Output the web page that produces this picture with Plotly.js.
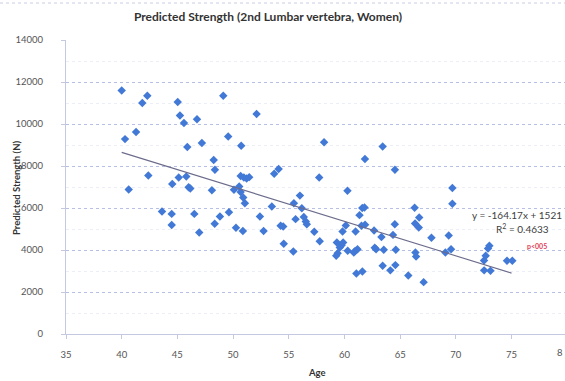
<!DOCTYPE html>
<html>
<head>
<meta charset="utf-8">
<script src="https://cdn.plot.ly/plotly-3.0.1.min.js"></script>
<style>html,body{margin:0;padding:0;background:#fff;}#chart{width:565px;height:381px;}</style>
</head>
<body>
<div id="chart"></div>
<script>
// Age (years) of each subject
const ages = [
  40.0, 42.3, 41.85, 45.03, 49.12, 45.23, 45.59, 46.76, 41.29, 40.30,
  49.56, 47.2, 45.89, 48.26, 48.37, 42.39, 45.12, 45.8, 44.54, 46.01,
  46.16, 40.63, 48.10, 43.62, 44.49, 46.52, 48.82, 49.63, 44.49, 48.35,
  46.96, 52.11, 50.73, 58.17, 54.09, 53.69, 50.68, 50.97, 51.22, 51.45,
  57.73, 50.55, 50.08, 50.68, 56.0, 50.91, 51.06, 53.48, 55.46, 56.17,
  52.41, 56.35, 56.53, 56.62, 55.61, 54.27, 54.5, 50.26, 50.88, 52.74,
  57.29, 57.78, 54.55, 59.32, 55.41, 59.39, 59.26, 60.29, 63.43, 61.84,
  64.53, 60.27, 61.6, 61.8, 66.30, 61.35, 66.71, 60.12, 61.53, 61.85,
  64.52, 66.34, 66.67, 59.83, 61.0, 62.66, 63.32, 64.36, 67.81, 69.36,
  59.88, 59.74, 59.58, 60.96, 61.17, 60.84, 62.72, 62.84, 63.53, 64.61,
  66.37, 66.43, 69.06, 63.43, 64.57, 64.12, 61.07, 61.61, 65.73, 67.11,
  69.69, 69.69, 69.57, 73.01, 72.89, 72.68, 72.53, 74.59, 75.07, 72.54,
  73.11
];
// Predicted strength (N)
const strength = [
  11600, 11350, 11000, 11050, 11350, 10400, 10050, 10230, 9620, 9280,
  9400, 9100, 8900, 8290, 7820, 7550, 7450, 7500, 7140, 6990,
  6930, 6880, 6850, 5830, 5720, 5720, 5600, 5800, 5190, 5250,
  4830, 10480, 8960, 9130, 7860, 7630, 7520, 7450, 7400, 7470,
  7450, 7020, 6870, 6760, 6590, 6500, 6230, 6070, 6230, 5990,
  5600, 5570, 5360, 5230, 5470, 5150, 5120, 5060, 4900, 4900,
  4870, 4420, 4300, 4360, 3930, 3850, 3730, 3960, 8930, 8330,
  7820, 6820, 6000, 6020, 6010, 5660, 5550, 5170, 5150, 5200,
  5230, 5260, 5070, 4880, 4880, 4930, 4620, 4720, 4580, 4690,
  4360, 4230, 4120, 3950, 4040, 3880, 4110, 4040, 4010, 4010,
  3880, 3690, 3880, 3250, 3280, 3030, 2880, 2980, 2790, 2470,
  6950, 6200, 4040, 4200, 4070, 3730, 3500, 3490, 3490, 3030,
  3010
];
// Linear trend line (end points)
const trendAges = [40, 75];
const trendStrength = [8650, 2900];
const yTicks = [0, 2000, 4000, 6000, 8000, 10000, 12000, 14000];
const xTicks = [35, 40, 45, 50, 55, 60, 65, 70, 75];

const FONT = 'Lato, "Open Sans", sans-serif';
const W = 565, H = 381;
const L = 66, R = 0, T = 40, B = 47;
const pw = W - L - R, ph = H - T - B;
const px = p => (p - L) / pw;
const py = p => (H - B - p) / ph;

const data = [
  {
    x: ages, y: strength, type: 'scatter', mode: 'markers',
    marker: {symbol: 'diamond', size: 6.5, color: '#4279d6'},
    hoverinfo: 'x+y', cliponaxis: false
  },
  {
    x: trendAges, y: trendStrength, type: 'scatter', mode: 'lines',
    line: {color: '#6b6b8c', width: 1.1}, hoverinfo: 'skip'
  }
];

const layout = {
  width: W, height: H,
  margin: {l: L, r: R, t: T, b: B, pad: 0},
  paper_bgcolor: '#ffffff', plot_bgcolor: '#ffffff',
  showlegend: false,
  title: {
    text: 'Predicted Strength (2nd Lumbar vertebra, Women)',
    font: {family: FONT, size: 12, color: '#333333', weight: 'bold'},
    x: 268 / W, xanchor: 'center', y: 1 - 17 / H, yanchor: 'middle'
  },
  xaxis: {
    range: [35, 79.8], tickmode: 'array', tickvals: xTicks,
    ticktext: xTicks.map(String),
    showgrid: false, zeroline: false,
    showline: true, linecolor: '#c4c8e0', linewidth: 1,
    ticks: 'outside', ticklen: 4, tickcolor: '#c4c8e0',
    ticklabelstandoff: 8,
    tickfont: {family: FONT, size: 9.5, color: '#555555'},
    fixedrange: true
  },
  yaxis: {
    range: [0, 14000], tickmode: 'array', tickvals: yTicks,
    ticktext: yTicks.map(String),
    showgrid: true, gridcolor: '#b8bfe4', griddash: 'dot', gridwidth: 1,
    minor: {dtick: 1000, showgrid: true, gridcolor: '#eceef7', griddash: 'dot', ticks: ''},
    zeroline: false,
    showline: true, linecolor: '#c4c8e0', linewidth: 1,
    ticks: 'outside', ticklen: 4, tickcolor: '#c4c8e0',
    ticklabelstandoff: 16,
    tickfont: {family: FONT, size: 9.5, color: '#555555'},
    fixedrange: true
  },
  shapes: [
    {type: 'line', xref: 'paper', yref: 'paper', x0: px(0), x1: px(W), y0: py(3), y1: py(3),
     line: {color: '#c8cce4', width: 1, dash: 'dot'}}
  ],
  annotations: [
    {text: '<b>Predicted Strength (N)</b>', xref: 'paper', yref: 'paper',
     x: px(16), y: py(188), textangle: -90, showarrow: false,
     xanchor: 'center', yanchor: 'middle',
     font: {family: FONT, size: 9.5, color: '#333333'}},
    {text: '<b>Age</b>', xref: 'paper', yref: 'paper',
     x: px(317), y: py(372), showarrow: false,
     xanchor: 'center', yanchor: 'middle',
     font: {family: FONT, size: 9.5, color: '#333333'}},
    {text: '8', xref: 'paper', yref: 'paper', x: px(565), y: py(352), showarrow: false,
     xanchor: 'right', yanchor: 'middle',
     font: {family: FONT, size: 9.5, color: '#555555'}},
    {text: 'y = -164.17x + 1521', xref: 'paper', yref: 'paper',
     x: px(564), y: py(215), showarrow: false, xanchor: 'right', yanchor: 'middle',
     font: {family: FONT, size: 10, color: '#404040'}},
    {text: 'R<sup>2</sup> = 0.4633', xref: 'paper', yref: 'paper',
     x: px(522), y: py(228), showarrow: false, xanchor: 'center', yanchor: 'middle',
     font: {family: FONT, size: 10, color: '#404040'}},
    {text: '<b>p<005</b>', xref: 'paper', yref: 'paper',
     x: px(537), y: py(246), showarrow: false, xanchor: 'center', yanchor: 'middle',
     font: {family: FONT, size: 7, color: '#e0405a'}}
  ]
};

Plotly.newPlot('chart', data, layout, {displayModeBar: false, staticPlot: true});
</script>
</body>
</html>
